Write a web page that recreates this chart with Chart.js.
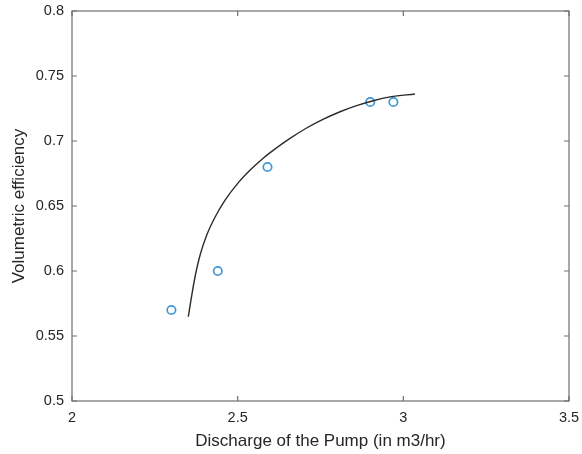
<!DOCTYPE html>
<html>
<head>
<meta charset="utf-8">
<script src="https://cdn.jsdelivr.net/npm/chart.js@4/dist/chart.umd.min.js"></script>
<style>
  html, body { margin: 0; padding: 0; background: #ffffff; }
  #wrap { width: 582px; height: 454px; position: relative; }
</style>
</head>
<body>
<div id="wrap"><canvas id="c" width="582" height="454"></canvas></div>
<script>
// ---- data ----
const dischargeMeasured = [2.30, 2.44, 2.59, 2.90, 2.97];
const efficiencyMeasured = [0.570, 0.600, 0.680, 0.730, 0.730];

const dischargeFit = [2.351, 2.361, 2.371, 2.386, 2.407, 2.432, 2.462, 2.502, 2.537, 2.577, 2.608, 2.658, 2.708, 2.759, 2.809, 2.859, 2.909, 2.960, 3.035];
const efficiencyFit = [0.5648, 0.5806, 0.5950, 0.6117, 0.6278, 0.6415, 0.6545, 0.6680, 0.6775, 0.6868, 0.6930, 0.7020, 0.7100, 0.7168, 0.7225, 0.7272, 0.7310, 0.7339, 0.7362];

const xTicks = [2, 2.5, 3, 3.5];
const xTickLabels = ['2', '2.5', '3', '3.5'];
const yTicks = [0.5, 0.55, 0.6, 0.65, 0.7, 0.75, 0.8];
const yTickLabels = ['0.5', '0.55', '0.6', '0.65', '0.7', '0.75', '0.8'];

const xTitle = 'Discharge of the Pump (in m3/hr)';
const yTitle = 'Volumetric efficiency';

// ---- build ----
const measuredPts = dischargeMeasured.map((x, i) => ({ x: x, y: efficiencyMeasured[i] }));
const fitPts = dischargeFit.map((x, i) => ({ x: x, y: efficiencyFit[i] }));

function labelFor(vals, labels, v) {
  const i = vals.findIndex(t => Math.abs(t - v) < 1e-9);
  return i >= 0 ? labels[i] : '';
}

const FONT = "'Liberation Sans', Arial, Helvetica, sans-serif";
const frameColor = '#6e6e6e';

const boxPlugin = {
  id: 'boxPlugin',
  afterDraw(chart) {
    const ctx = chart.ctx;
    const a = chart.chartArea;
    const xs = chart.scales.x, ys = chart.scales.y;
    ctx.save();
    ctx.strokeStyle = frameColor;
    ctx.lineWidth = 1.2;
    ctx.strokeRect(a.left, a.top, a.right - a.left, a.bottom - a.top);
    const tl = 5;
    ctx.beginPath();
    xTicks.forEach(v => {
      const px = xs.getPixelForValue(v);
      ctx.moveTo(px, a.bottom); ctx.lineTo(px, a.bottom - tl);
      ctx.moveTo(px, a.top); ctx.lineTo(px, a.top + tl);
    });
    yTicks.forEach(v => {
      const py = ys.getPixelForValue(v);
      ctx.moveTo(a.left, py); ctx.lineTo(a.left + tl, py);
      ctx.moveTo(a.right, py); ctx.lineTo(a.right - tl, py);
    });
    ctx.stroke();
    ctx.restore();
  }
};

new Chart(document.getElementById('c'), {
  type: 'scatter',
  data: {
    datasets: [
      {
        label: 'fit',
        data: fitPts,
        showLine: true,
        borderColor: '#2b2b2b',
        borderWidth: 1.4,
        pointRadius: 0,
        pointHoverRadius: 0,
        cubicInterpolationMode: 'monotone',
        fill: false
      },
      {
        label: 'measured',
        data: measuredPts,
        showLine: false,
        pointStyle: 'circle',
        pointRadius: 4.2,
        borderWidth: 1.7,
        borderColor: '#3f97d6',
        backgroundColor: 'rgba(0,0,0,0)'
      }
    ]
  },
  options: {
    responsive: false,
    animation: false,
    events: [],
    layout: { padding: { top: 11, right: 13, left: 0, bottom: 0 } },
    plugins: {
      legend: { display: false },
      tooltip: { enabled: false }
    },
    scales: {
      x: {
        type: 'linear',
        min: 2, max: 3.5,
        grid: { display: false, drawTicks: false },
        border: { display: false },
        afterBuildTicks(scale) { scale.ticks = xTicks.map(v => ({ value: v })); },
        afterFit(scale) { scale.height = 53; scale.paddingLeft = 0; scale.paddingRight = 0; },
        ticks: {
          padding: 8,
          color: '#262626',
          font: { family: FONT, size: 14.5 },
          maxRotation: 0,
          callback: v => labelFor(xTicks, xTickLabels, v)
        },
        title: {
          display: true,
          text: xTitle,
          color: '#262626',
          font: { family: FONT, size: 17, lineHeight: 1.2 },
          padding: { top: 0, bottom: 2 }
        }
      },
      y: {
        type: 'linear',
        min: 0.5, max: 0.8,
        grid: { display: false, drawTicks: false },
        border: { display: false },
        afterBuildTicks(scale) { scale.ticks = yTicks.map(v => ({ value: v })); },
        afterFit(scale) { scale.width = 72; scale.paddingTop = 0; scale.paddingBottom = 0; },
        ticks: {
          padding: 8,
          color: '#262626',
          font: { family: FONT, size: 14.5 },
          callback: v => labelFor(yTicks, yTickLabels, v)
        },
        title: {
          display: true,
          text: yTitle,
          color: '#262626',
          font: { family: FONT, size: 17, lineHeight: 1.2 },
          padding: { top: 9, bottom: 0 }
        }
      }
    }
  },
  plugins: [boxPlugin]
});
</script>
</body>
</html>
